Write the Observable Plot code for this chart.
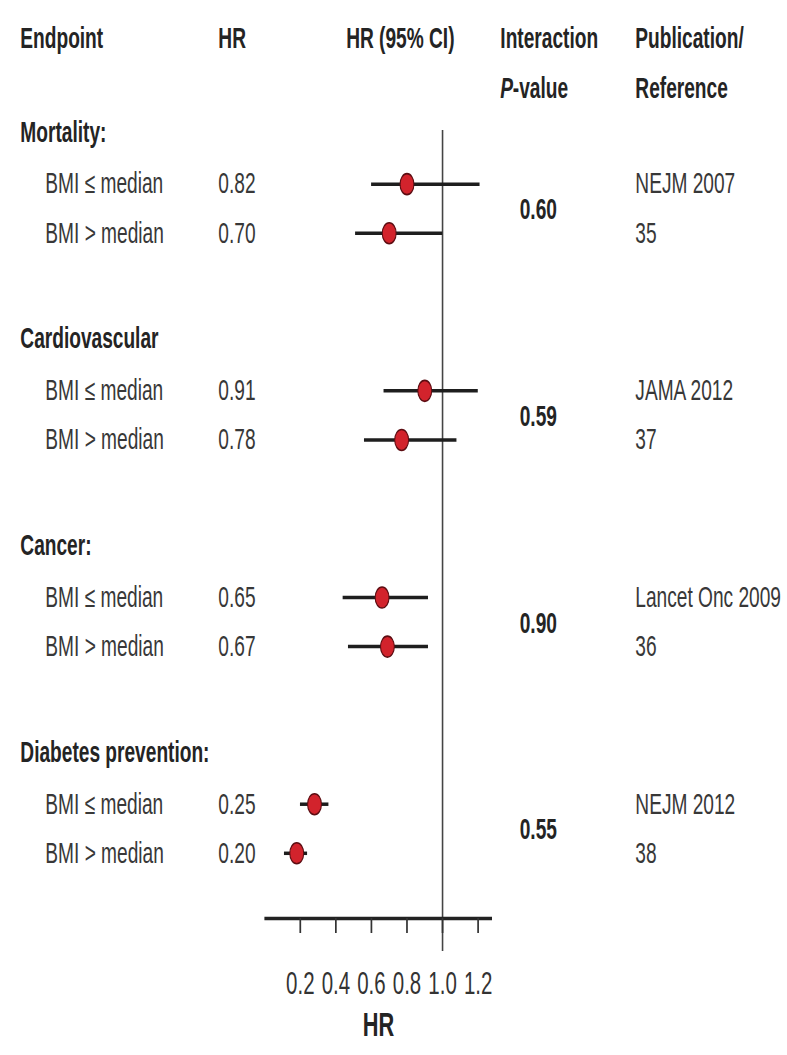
<!DOCTYPE html>
<html>
<head>
<meta charset="utf-8">
<script src="https://cdn.jsdelivr.net/npm/d3@7"></script>
<script src="https://cdn.jsdelivr.net/npm/@observablehq/plot@0.6"></script>
<style>
  html, body { margin: 0; padding: 0; background: #fff; overflow: hidden; }
  #chart { width: 787px; height: 1055px; overflow: hidden; }
</style>
</head>
<body>
<div id="chart"></div>
<script>
// ---------- data ----------
const groups = ["Mortality:", "Cardiovascular", "Cancer:", "Diabetes prevention:"];
const subgroups = ["BMI \u2264 median", "BMI > median"];
const hrLabels = ["0.82", "0.70", "0.91", "0.78", "0.65", "0.67", "0.25", "0.20"];
const estimates = [0.80, 0.70, 0.90, 0.77, 0.66, 0.69, 0.28, 0.18];
const ciLow = [0.60, 0.51, 0.67, 0.56, 0.44, 0.47, 0.20, 0.11];
const ciHigh = [1.21, 1.00, 1.20, 1.08, 0.92, 0.92, 0.36, 0.24];
const pValues = ["0.60", "0.59", "0.90", "0.55"];
const publications = ["NEJM 2007", "JAMA 2012", "Lancet Onc 2009", "NEJM 2012"];
const references = ["35", "37", "36", "38"];
const xTicks = [0.2, 0.4, 0.6, 0.8, 1.0, 1.2];
const headerLine1 = ["Endpoint", "HR", "HR (95% CI)", "Interaction", "Publication/"];
const headerLine2 = ["P", "-value", "Reference"];
const axisTitle = "HR";

// ---------- layout (row units) ----------
const GROUP_STEP = 4, ROW1 = 1.0, ROW2 = 1.95, PROW = 1.5;
const HEAD1 = -1.82, HEAD2 = -0.85;

const rows = [];
groups.forEach((g, gi) => {
  subgroups.forEach((s, si) => {
    const i = gi * 2 + si;
    rows.push({
      group: g, sub: s, hr: hrLabels[i], est: estimates[i],
      lo: ciLow[i], hi: ciHigh[i],
      pos: gi * GROUP_STEP + (si === 0 ? ROW1 : ROW2)
    });
  });
});
const groupRows = groups.map((g, gi) => ({
  name: g, pos: gi * GROUP_STEP, p: pValues[gi],
  pub: publications[gi], ref: references[gi]
}));

// ---------- geometry ----------
const S = 0.66;                 // horizontal squash of the original picture
const W = 787 / S, H = 1055;
const ML = 264.4 / S, MR = W - 492 / S, MB = H - 918;
const yDomain = [-132 / 51.67, (918 - 132) / 51.67];
const dx = px => px / S - ML;   // screen px -> dx from frame left

const FONT = "'Liberation Sans', Arial, Helvetica, sans-serif";
const FS = 29;
const DARK = "#242424", GREY = "#383838";

const txt = (data, o) => Plot.text(data, {frameAnchor: "left", textAnchor: "start", fontSize: FS, fill: GREY, ...o});

const chart = Plot.plot({
  width: W, height: H,
  marginLeft: ML, marginRight: MR, marginTop: 0, marginBottom: MB,
  x: {domain: [0, 1.28]},
  y: {domain: yDomain, reverse: true, axis: null},
  style: {fontFamily: FONT, background: "#fff"},
  marks: [
    // reference line at HR = 1
    Plot.ruleX([1], {y1: -0.04, y2: 15.85, stroke: "#444", strokeWidth: 2.4}),
    // x axis
    Plot.ruleY([yDomain[1]], {stroke: "#222", strokeWidth: 3.5}),
    Plot.axisX(xTicks, {anchor: "bottom", tickSize: 15, tickPadding: 38, strokeWidth: 2.6,
      stroke: "#333", fill: "#333", fontSize: 31, tickFormat: d => d.toFixed(1), label: null}),
    Plot.text([axisTitle], {frameAnchor: "bottom", dy: 117, fontSize: 33, fontWeight: "bold", fill: DARK}),
    // confidence intervals and point estimates
    Plot.ruleY(rows, {y: "pos", x1: "lo", x2: "hi", stroke: "#1e1e1e", strokeWidth: 3.5}),
    Plot.dot(rows, {x: "est", y: "pos", r: 10.5, fill: "#d2232c", stroke: "#5c0d12", strokeWidth: 1.6}),
    // column headers
    txt([headerLine1[0]], {y: () => HEAD1, dx: dx(20), fontWeight: "bold", fill: DARK}),
    txt([headerLine1[1]], {y: () => HEAD1, dx: dx(218), fontWeight: "bold", fill: DARK}),
    txt([headerLine1[2]], {y: () => HEAD1, dx: dx(400), textAnchor: "middle", fontWeight: "bold", fill: DARK}),
    txt([headerLine1[3]], {y: () => HEAD1, dx: dx(500), fontWeight: "bold", fill: DARK}),
    txt([headerLine1[4]], {y: () => HEAD1, dx: dx(635), fontWeight: "bold", fill: DARK}),
    txt([headerLine2[0]], {y: () => HEAD2, dx: dx(500), fontWeight: "bold", fontStyle: "italic", fill: DARK}),
    txt([headerLine2[1]], {y: () => HEAD2, dx: dx(512.5), fontWeight: "bold", fill: DARK}),
    txt([headerLine2[2]], {y: () => HEAD2, dx: dx(635), fontWeight: "bold", fill: DARK}),
    // group headers
    txt(groupRows, {y: "pos", text: "name", dx: dx(20), fontWeight: "bold", fill: DARK}),
    // subgroup labels and HR
    txt(rows, {y: "pos", text: "sub", dx: dx(45)}),
    txt(rows, {y: "pos", text: "hr", dx: dx(218)}),
    // interaction p-values
    txt(groupRows, {y: d => d.pos + PROW, text: "p", dx: dx(538), textAnchor: "middle", fontWeight: "bold", fill: DARK}),
    // publication / reference
    txt(groupRows, {y: d => d.pos + ROW1, text: "pub", dx: dx(635)}),
    txt(groupRows, {y: d => d.pos + ROW2, text: "ref", dx: dx(635)})
  ]
});

chart.setAttribute("width", 787);
chart.setAttribute("height", H);
chart.setAttribute("preserveAspectRatio", "none");
chart.style.width = "787px";
chart.style.height = H + "px";
chart.style.maxWidth = "none";
document.getElementById("chart").appendChild(chart);
</script>
</body>
</html>
